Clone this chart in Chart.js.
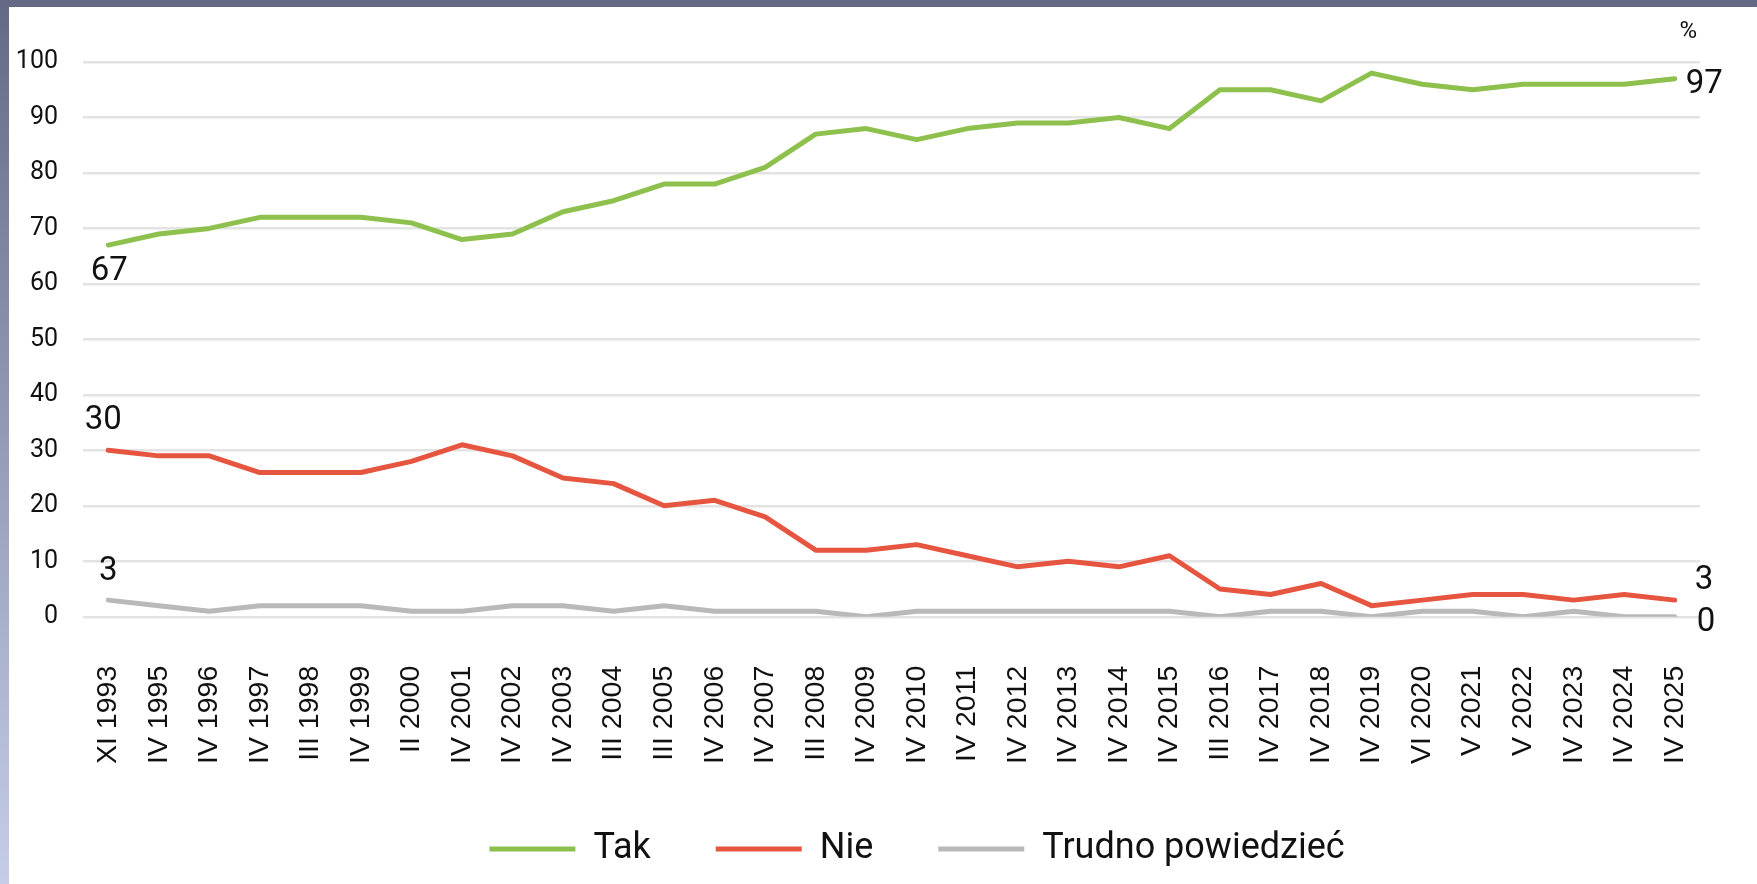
<!DOCTYPE html>
<html>
<head>
<meta charset="utf-8">
<script src="https://cdn.jsdelivr.net/npm/chart.js@4.4.0/dist/chart.umd.min.js"></script>
<style>
html, body { margin: 0; padding: 0; }
body {
    width: 1757px;
    height: 884px;
    overflow: hidden;
    position: relative;
    background: linear-gradient(to bottom, #646985, #c6cde8);
}
#wrap {
    position: absolute;
    left: 9px;
    top: 7px;
    width: 1748px;
    height: 877px;
    background: #fff;
    overflow: hidden;
}
</style>
</head>
<body>
<div id="wrap"><canvas id="chart" width="1808" height="877"></canvas></div>
<script>
const categories = [
    "XI 1993", "IV 1995", "IV 1996", "IV 1997", "III 1998", "IV 1999", "II 2000", "IV 2001",
    "IV 2002", "IV 2003", "III 2004", "III 2005", "IV 2006", "IV 2007", "III 2008", "IV 2009",
    "IV 2010", "IV 2011", "IV 2012", "IV 2013", "IV 2014", "IV 2015", "III 2016", "IV 2017",
    "IV 2018", "IV 2019", "VI 2020", "V 2021", "V 2022", "IV 2023", "IV 2024", "IV 2025"
];
const tak = [67, 69, 70, 72, 72, 72, 71, 68, 69, 73, 75, 78, 78, 81, 87, 88,
             86, 88, 89, 89, 90, 88, 95, 95, 93, 98, 96, 95, 96, 96, 96, 97];
const nie = [30, 29, 29, 26, 26, 26, 28, 31, 29, 25, 24, 20, 21, 18, 12, 12,
             13, 11, 9, 10, 9, 11, 5, 4, 6, 2, 3, 4, 4, 3, 4, 3];
const trudno = [3, 2, 1, 2, 2, 2, 1, 1, 2, 2, 1, 2, 1, 1, 1, 0,
                1, 1, 1, 1, 1, 1, 0, 1, 1, 0, 1, 1, 0, 1, 0, 0];
const seriesNames = ["Tak", "Nie", "Trudno powiedzieć"];
const unitLabel = "%";

const colors = ['#8dc04c', '#e6553f', '#b9b9b9'];

//Labels for first and last value of every line
const valueLabels = {
    id: 'valueLabels',
    afterDatasetsDraw(chart) {
        const ctx = chart.ctx;
        const first = [[1, 27], [-5, -30], [0, -28]];
        const last = [[11, 6], [20, -19], [22, 6]];
        ctx.save();
        ctx.font = '33px Roboto';
        ctx.fillStyle = '#111';
        ctx.textBaseline = 'middle';
        chart.data.datasets.forEach((ds, i) => {
            const pts = chart.getDatasetMeta(i).data;
            const p0 = pts[0];
            const pn = pts[pts.length - 1];
            ctx.textAlign = 'center';
            ctx.fillText(ds.data[0], p0.x + first[i][0], p0.y + first[i][1]);
            ctx.textAlign = 'left';
            ctx.fillText(ds.data[ds.data.length - 1], pn.x + last[i][0], pn.y + last[i][1]);
        });
        // unit above the plot
        ctx.font = '24px Roboto';
        ctx.textAlign = 'right';
        ctx.fillText(unitLabel, chart.chartArea.right - 3, chart.chartArea.top - 30);
        ctx.restore();
    }
};

new Chart(document.getElementById('chart'), {
    type: 'line',
    data: {
        labels: categories,
        datasets: [tak, nie, trudno].map((values, i) => ({
            label: seriesNames[i],
            data: values,
            borderColor: colors[i],
            backgroundColor: colors[i],
            borderWidth: 5,
            pointRadius: 0,
            pointStyle: 'line',
            tension: 0,
            borderCapStyle: 'round',
            borderJoinStyle: 'round'
        }))
    },
    options: {
        responsive: false,
        animation: false,
        layout: { padding: { left: 8, right: 0, top: 55, bottom: 7 } },
        plugins: {
            tooltip: { enabled: false },
            legend: {
                position: 'bottom',
                labels: {
                    usePointStyle: true,
                    pointStyleWidth: 86,
                    padding: 65,
                    color: '#111',
                    font: { family: 'Roboto', size: 36 }
                }
            }
        },
        scales: {
            x: {
                offset: true,
                grid: { display: false, drawTicks: true, tickLength: 47 },
                border: { display: false },
                ticks: {
                    autoSkip: false,
                    minRotation: 90,
                    maxRotation: 90,
                    padding: 2,
                    color: '#111',
                    font: { family: 'Liberation Sans', size: 28.5 }
                }
            },
            y: {
                min: 0,
                max: 100,
                grid: { color: '#e3e3e3', lineWidth: 2.5, drawTicks: false },
                border: { display: false },
                ticks: {
                    stepSize: 10,
                    padding: 25,
                    color: '#111',
                    font: { family: 'Roboto', size: 25 }
                },
                afterFit: s => { s.width = 66; }
            },
            y2: {
                position: 'right',
                display: true,
                grid: { display: false },
                border: { display: false },
                ticks: { display: false },
                afterFit: s => { s.width = 117; }
            }
        }
    },
    plugins: [valueLabels]
});
</script>
</body>
</html>
